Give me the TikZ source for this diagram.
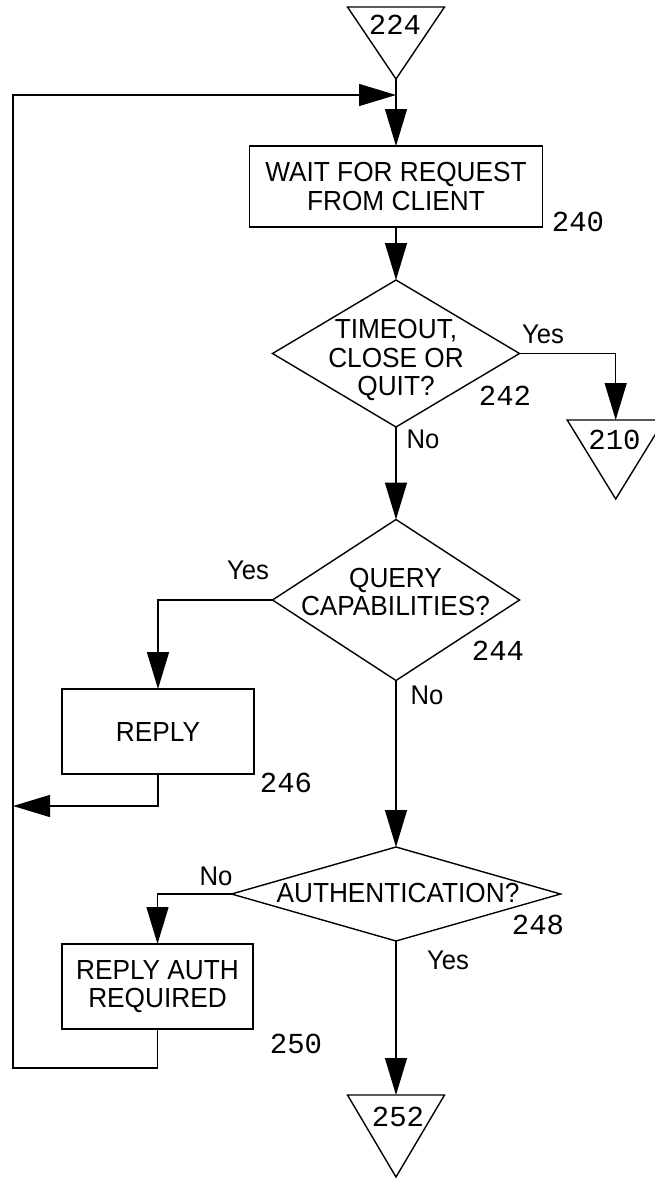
\documentclass[tikz,border=0pt]{standalone}
\usepackage{fontspec}
\setmainfont[FakeStretch=0.95]{Liberation Sans}
\newfontfamily\monof{Liberation Mono}
\usetikzlibrary{arrows.meta,shapes.geometric}
\begin{document}
\begin{tikzpicture}[x=1pt,y=-1pt, line width=1.4pt,
  every node/.style={outer sep=0pt},
  flow/.style={-{Triangle[length=37pt,width=22pt]}},
  boxn/.style={draw, rectangle, inner sep=0pt, font=\fontsize{27.6}{28.6}\selectfont, align=center},
  dia/.style={draw, diamond, inner sep=0pt},
  term/.style={rectangle, inner sep=0pt, minimum width=97pt},
  txt/.style={font=\fontsize{27.6}{28.6}\selectfont, align=center, inner sep=0pt},
  lab/.style={font=\fontsize{27}{28}\selectfont, inner sep=0pt, text height=19.3pt, text depth=0pt},
  num/.style={font=\monof\fontsize{29}{30}\selectfont, inner sep=0pt, text height=19pt, text depth=0pt}
]
\useasboundingbox (0,0) rectangle (654,1179);

% terminals
\node[term, minimum height=72pt] (t224) at (396,43) {};
\draw (t224.north west) -- (t224.north east) -- (t224.south) -- cycle;
\node[num] (n224) at (395,25) {224};

\node[term, minimum height=79pt] (t210) at (615.7,459.5) {};
\draw (t210.north west) -- (t210.north east) -- (t210.south) -- cycle;
\node[num] (n210) at (614.5,440) {210};

\node[term, minimum height=82pt] (t252) at (396,1136) {};
\draw (t252.north west) -- (t252.north east) -- (t252.south) -- cycle;
\node[num] (n252) at (398,1117) {252};

% boxes
\node[boxn, minimum width=293pt, minimum height=81pt] (b240) at (396,186.5) {WAIT FOR REQUEST\\FROM CLIENT};
\node[num] (n240) at (578,222) {240};

\node[boxn, minimum width=192pt, minimum height=85pt] (b246) at (158,731.5) {REPLY};
\node[num] (n246) at (286,783) {246};

\node[boxn, minimum width=191pt, minimum height=85pt] (b250) at (157.5,986.5) {REPLY AUTH\\REQUIRED};
\node[num] (n250) at (296,1044) {250};

% decisions
\node[dia, minimum width=247pt, minimum height=147pt] (d242) at (396,353.5) {};
\node[txt] (x242) at (396,360) {TIMEOUT,\\CLOSE OR\\QUIT?};
\node[num] (n242) at (505,396) {242};

\node[dia, minimum width=247pt, minimum height=161pt] (d244) at (396,600) {};
\node[txt] (x244) at (395.5,592) {QUERY\\CAPABILITIES?};
\node[num] (n244) at (498,651) {244};

\node[dia, minimum width=329pt, minimum height=94pt] (d248) at (396,894) {};
\node[txt] (x248) at (398,893) {AUTHENTICATION?};
\node[num] (n248) at (538,925) {248};

% branch labels
\node[lab] (y242) at (543,334) {Yes};
\node[lab] (o242) at (423,439) {No};
\node[lab] (y244) at (248,570) {Yes};
\node[lab] (o244) at (427,695) {No};
\node[lab] (o248) at (216,876) {No};
\node[lab] (y248) at (448,960) {Yes};

% connectors
\coordinate (jn) at (396,95);
\coordinate (lt) at (13,95);
\coordinate (lb) at (13,1068);
\coordinate (rl) at (13,806);

\draw[flow] (t224.south) -- (b240.north);
\draw[flow] (b240.south) -- (d242.north);
\draw[flow] (d242.east) -| (t210.north);
\draw[flow] (d242.south) -- (d244.north);
\draw[flow] (d244.west) -| (b246.north);
\draw[flow] (b246.south) |- (rl);
\draw[flow] (d244.south) -- (d248.north);
\draw[flow] (d248.west) -| (b250.north);
\draw[flow] (d248.south) -- (t252.north);
\draw[flow] (b250.south) |- (lb) -- (lt) -- (jn);
\end{tikzpicture}
\end{document}
